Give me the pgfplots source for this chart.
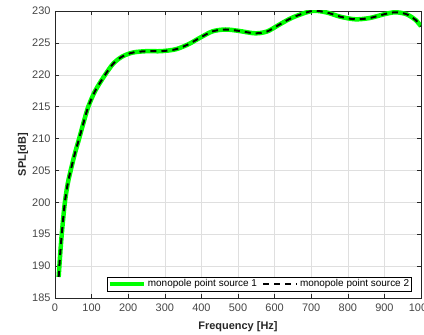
\documentclass[border=0pt]{standalone}
\usepackage{fontspec}
\setmainfont{Liberation Sans}
\usepackage{pgfplots}
\pgfplotsset{compat=1.18}
\definecolor{axgray}{RGB}{38,38,38}
\definecolor{tickgray}{RGB}{70,70,70}
\definecolor{gridgray}{RGB}{223,223,223}
\definecolor{mgreen}{RGB}{0,255,0}
\begin{document}
\begin{tikzpicture}
\useasboundingbox (-55bp,-37bp) rectangle (369bp,298bp);
\clip (-55bp,-37bp) rectangle (369bp,298bp);
\begin{axis}[
  scale only axis,
  width=366bp, height=287bp,
  xmin=0, xmax=1000, ymin=185, ymax=230,
  xtick={0,100,...,1000}, ytick={185,190,...,230},
  /pgf/number format/assume math mode=true,
  /pgf/number format/1000 sep={},
  tick label style={font=\fontsize{11}{12}\selectfont, text=tickgray},
  xticklabel style={yshift=-2bp},
  yticklabel style={xshift=-1bp},
  tick align=inside,
  major tick length=3.6bp,
  tick style={axgray, line width=0.5bp},
  axis line style={axgray, line width=0.6bp},
  grid=major,
  grid style={gridgray, line width=0.5bp},
  xlabel={\textbf{Frequency [Hz]}},
  ylabel={\textbf{SPL[dB]}},
  label style={font=\fontsize{11}{12}\selectfont, text=axgray},
  xlabel style={at={(axis description cs:0.5,0)}, anchor=center, yshift=-29bp},
  ylabel style={at={(axis description cs:0,0.5)}, anchor=center, yshift=32bp},
  legend columns=2,
  legend cell align=left,
  legend style={font=\fontsize{10}{11}\selectfont, draw=black, line width=0.5bp,
    inner sep=0.5bp, at={(rel axis cs:0.975,0.024)}, anchor=south east,
    /tikz/every even column/.style={column sep=3bp}},
  legend image code/.code={\draw[#1] (0bp,0bp) -- (34bp,0bp);},
]
\addplot[mgreen, line width=4.5bp, smooth] coordinates {
(10,188.3) (15,192.5) (20,196.0) (27,200.0) (35,203.0) (45,205.5) (55,207.8)
(66,210.0) (78,212.5) (91,215.0) (110,217.5) (137,220.0) (160,221.8) (185,222.9)
(214,223.5) (250,223.7) (290,223.7) (330,224.0) (365,224.8) (396,225.8) (430,226.8)
(465,227.1) (500,226.9) (547,226.5) (580,226.8) (611,227.8) (650,229.0) (702,230.0)
(740,229.8) (780,229.1) (820,228.7) (860,228.9) (900,229.5) (930,229.8) (960,229.5)
(985,228.6) (1000,227.6)
};
\addlegendentry{monopole point source 1}
\addplot[black, line width=2bp, dash pattern=on 6bp off 5bp, smooth] coordinates {
(10,188.3) (15,192.5) (20,196.0) (27,200.0) (35,203.0) (45,205.5) (55,207.8)
(66,210.0) (78,212.5) (91,215.0) (110,217.5) (137,220.0) (160,221.8) (185,222.9)
(214,223.5) (250,223.7) (290,223.7) (330,224.0) (365,224.8) (396,225.8) (430,226.8)
(465,227.1) (500,226.9) (547,226.5) (580,226.8) (611,227.8) (650,229.0) (702,230.0)
(740,229.8) (780,229.1) (820,228.7) (860,228.9) (900,229.5) (930,229.8) (960,229.5)
(985,228.6) (1000,227.6)
};
\addlegendentry{monopole point source 2}
\end{axis}
\end{tikzpicture}
\end{document}
